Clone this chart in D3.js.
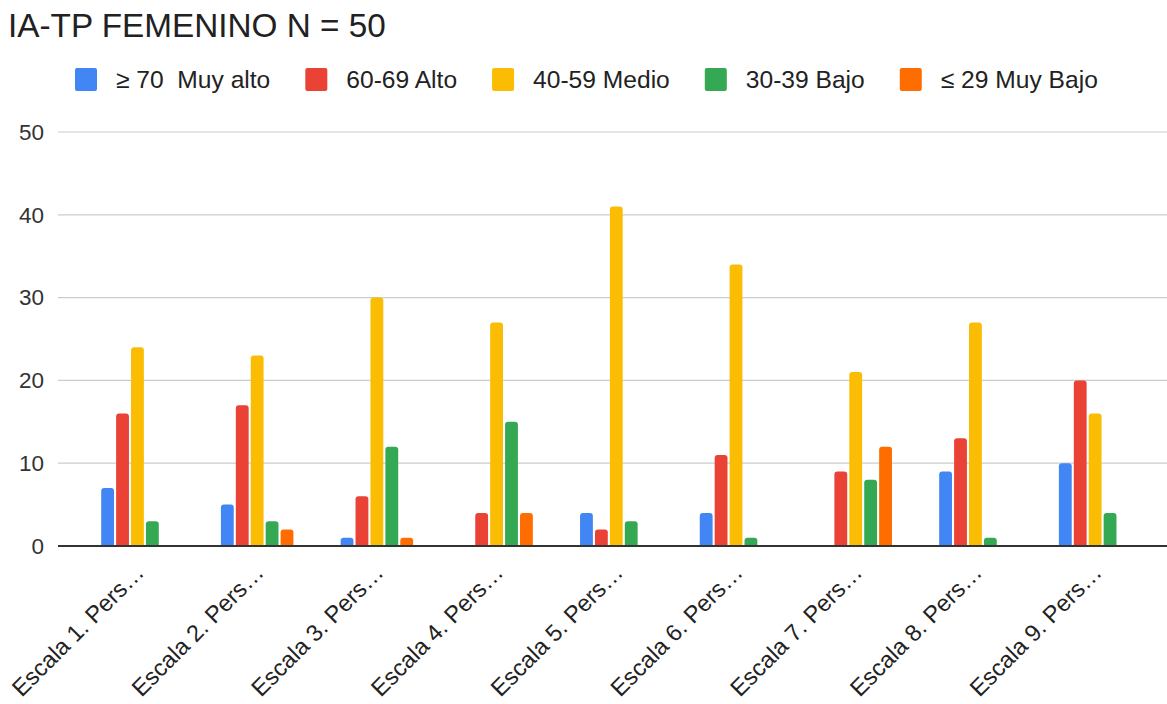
<!DOCTYPE html>
<html>
<head>
<meta charset="utf-8">
<script src="https://cdn.jsdelivr.net/npm/d3@7"></script>
<style>
  body { margin: 0; background: #fff; }
  text { font-family: "Liberation Sans", Arial, sans-serif; }
</style>
</head>
<body>
<div id="chart"></div>
<script>
var w = 1167;
var h = 704;

var categories = ["Escala 1. Pers…", "Escala 2. Pers…", "Escala 3. Pers…", "Escala 4. Pers…",
                  "Escala 5. Pers…", "Escala 6. Pers…", "Escala 7. Pers…", "Escala 8. Pers…",
                  "Escala 9. Pers…"];
var seriesNames = ["≥ 70  Muy alto", "60-69 Alto", "40-59 Medio", "30-39 Bajo", "≤ 29 Muy Bajo"];
var colors = ["#4285f4", "#ea4335", "#fbbc04", "#34a853", "#ff6d01"];

var muyAlto = [7, 5, 1, 0, 4, 4, 0, 9, 10];
var alto    = [16, 17, 6, 4, 2, 11, 9, 13, 20];
var medio   = [24, 23, 30, 27, 41, 34, 21, 27, 16];
var bajo    = [3, 3, 12, 15, 3, 1, 8, 1, 4];
var muyBajo = [0, 2, 1, 4, 0, 0, 12, 0, 0];
var yTicks  = [0, 10, 20, 30, 40, 50];

var seriesValues = [muyAlto, alto, medio, bajo, muyBajo];

var svg = d3.select("#chart")
            .append("svg")
            .attr("width", w)
            .attr("height", h);

// title
svg.append("text")
   .attr("x", 8)
   .attr("y", 37)
   .attr("font-size", 33.3)
   .attr("fill", "#212121")
   .text("IA-TP FEMENINO N = 50");

// legend, laid out left to right
var legend = svg.append("g").attr("transform", "translate(75,68)");
var lx = 0;
seriesNames.forEach(function(name, i) {
  var item = legend.append("g").attr("transform", "translate(" + lx + ",0)");
  item.append("rect")
      .attr("width", 22)
      .attr("height", 23)
      .attr("rx", 2)
      .attr("fill", colors[i]);
  var t = item.append("text")
      .attr("x", 41)
      .attr("y", 20)
      .attr("font-size", 24.6)
      .attr("fill", "#222")
      .style("white-space", "pre")
      .text(name);
  lx += 41 + t.node().getComputedTextLength() + 35;
});

var yScale = d3.scaleLinear()
               .domain([0, 50])
               .range([546, 132]);

var x0 = d3.scaleBand()
           .domain(categories)
           .range([77.6, 1155]);

var groupW = 72.5;
var x1 = d3.scaleBand()
           .domain(d3.range(seriesNames.length))
           .range([0, groupW])
           .paddingInner(0.14);

// y tick labels
var yAxis = d3.axisLeft(yScale)
              .tickValues(yTicks)
              .tickSize(0)
              .tickPadding(14);

var gy = svg.append("g")
   .attr("transform", "translate(58,0)")
   .call(yAxis);
gy.select(".domain").remove();
gy.selectAll("text")
  .attr("font-size", 22.5)
  .attr("fill", "#333")
  .attr("font-family", "Liberation Sans, Arial, sans-serif");

// grid lines
svg.append("g")
   .selectAll("line")
   .data(yTicks.filter(function(d) { return d > 0; }))
   .enter()
   .append("line")
   .attr("x1", 58)
   .attr("x2", w)
   .attr("y1", function(d) { return yScale(d); })
   .attr("y2", function(d) { return yScale(d); })
   .attr("stroke", "#cccccc")
   .attr("stroke-width", 1.2);

// bars
var flat = [];
categories.forEach(function(c, ci) {
  seriesValues.forEach(function(vals, si) {
    if (vals[ci] > 0) flat.push({cat: c, s: si, v: vals[ci]});
  });
});

function barPath(x, y, bw, bh, r) {
  r = Math.min(r, bh, bw / 2);
  return "M" + x + "," + (y + bh) +
         "V" + (y + r) +
         "Q" + x + "," + y + " " + (x + r) + "," + y +
         "H" + (x + bw - r) +
         "Q" + (x + bw) + "," + y + " " + (x + bw) + "," + (y + r) +
         "V" + (y + bh) + "Z";
}

svg.append("g")
   .selectAll("path")
   .data(flat)
   .enter()
   .append("path")
   .attr("fill", function(d) { return colors[d.s]; })
   .attr("d", function(d) {
     var bx = x0(d.cat) + (x0.bandwidth() - groupW) / 2 + x1(d.s);
     var by = yScale(d.v);
     return barPath(bx, by, x1.bandwidth(), yScale(0) - by, 3);
   });

// baseline
svg.append("line")
   .attr("x1", 58)
   .attr("x2", w)
   .attr("y1", yScale(0))
   .attr("y2", yScale(0))
   .attr("stroke", "#333")
   .attr("stroke-width", 2);

// x labels
var xAxis = d3.axisBottom(x0).tickSize(0).tickPadding(0);
var gx = svg.append("g")
   .attr("transform", "translate(0," + yScale(0) + ")")
   .call(xAxis);
gx.select(".domain").remove();
gx.selectAll("text")
  .attr("font-size", 23.5)
  .attr("fill", "#222")
  .attr("font-family", "Liberation Sans, Arial, sans-serif")
  .attr("text-anchor", "end")
  .attr("dy", 0)
  .attr("transform", "translate(8,28) rotate(-45)");
</script>
</body>
</html>
